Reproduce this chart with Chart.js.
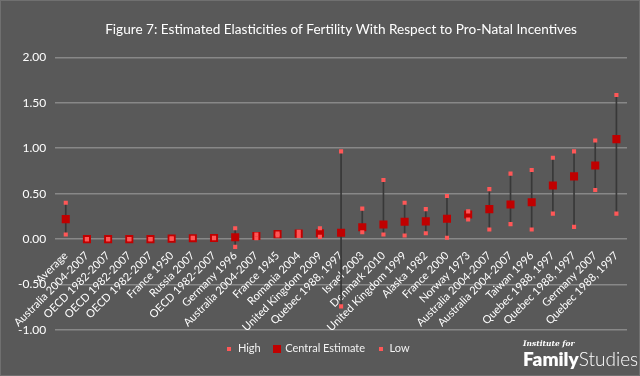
<!DOCTYPE html>
<html>
<head>
<meta charset="utf-8">
<script src="https://cdn.jsdelivr.net/npm/chart.js@4.4.1/dist/chart.umd.min.js"></script>
<style>
  body { margin: 0; background: #595959; }
  #wrap { position: relative; width: 640px; height: 376px; box-sizing: border-box; border: 1px solid #707070; }
  #logo { position: absolute; left: 522px; top: 339px; color: #fff; line-height: 1; }
  #logo .inst { font-family: "DejaVu Serif", serif; font-style: italic; font-weight: bold; font-size: 7.5px; display: block; margin-bottom: 1px; }
  #logo .fam { font-family: Lato, sans-serif; font-weight: 800; font-size: 19px; }
  #logo .stu { font-family: Lato, sans-serif; font-weight: 300; font-size: 19px; }
</style>
</head>
<body>
<div id="wrap">
  <canvas id="elasticityChart" width="638" height="374"></canvas>
  <div id="logo"><span class="inst">Institute for</span><span class="fam">Family</span><span class="stu">Studies</span></div>
</div>
<script>
const categories = [
    "Average", "Australia 2004-2007", "OECD 1982-2007", "OECD 1982-2007", "OECD 1982-2007",
    "France 1950", "Russia 2007", "OECD 1982-2007", "Germany 1996", "Australia 2004-2007",
    "France 1945", "Romania 2004", "United Kingdom 2009", "Quebec 1988, 1997", "Israel 2003",
    "Denmark 2010", "United Kingdom 1999", "Alaska 1982", "France 2000", "Norway 1973",
    "Australia 2004-2007", "Australia 2004-2007", "Taiwan 1996", "Quebec 1988, 1997",
    "Quebec 1988, 1997", "Germany 2007", "Quebec 1988, 1997"
];
const highValues = [
    0.40, 0.00, 0.00, 0.00, 0.00, 0.005, 0.015, 0.015, 0.12, 0.05,
    0.06, 0.08, 0.12, 0.965, 0.335, 0.65, 0.40, 0.33, 0.475, 0.305,
    0.55, 0.72, 0.76, 0.895, 0.965, 1.085, 1.585
];
const centralValues = [
    0.22, 0.00, 0.00, 0.00, 0.00, 0.005, 0.01, 0.012, 0.02, 0.035,
    0.055, 0.06, 0.065, 0.07, 0.13, 0.16, 0.19, 0.195, 0.225, 0.27,
    0.33, 0.38, 0.405, 0.59, 0.69, 0.81, 1.10
];
const lowValues = [
    0.05, 0.00, 0.00, 0.00, 0.00, 0.005, 0.01, 0.01, -0.085, 0.01,
    0.04, 0.035, 0.025, -0.74, 0.075, 0.05, 0.04, 0.065, 0.015, 0.215,
    0.105, 0.165, 0.105, 0.28, 0.135, 0.54, 0.28
];
const yTicks = [-1.00, -0.50, 0.00, 0.50, 1.00, 1.50, 2.00];

const pink = "#ff5757";
const darkRed = "#c00000";

// little square images for the legend (markers differ in size)
function square(size, color) {
    const c = document.createElement("canvas");
    c.width = size; c.height = size;
    const g = c.getContext("2d");
    g.fillStyle = color;
    g.fillRect(0, 0, size, size);
    return c;
}
const legendIcons = [square(4, pink), square(8, darkRed), square(4, pink)];

const ctx = document.getElementById("elasticityChart").getContext("2d");
const chart = new Chart(ctx, {
    type: "line",
    data: {
        labels: categories,
        datasets: [{
            label: "High",
            data: highValues,
            showLine: false,
            pointStyle: "rect",
            pointRadius: 2.9,
            pointHoverRadius: 2.9,
            pointBackgroundColor: pink,
            pointBorderWidth: 0,
            order: 0
        }, {
            label: "Central Estimate",
            data: centralValues,
            showLine: false,
            pointStyle: "rect",
            pointRadius: 5.7,
            pointHoverRadius: 5.7,
            pointBackgroundColor: darkRed,
            pointBorderWidth: 0,
            order: 2
        }, {
            label: "Low",
            data: lowValues,
            showLine: false,
            pointStyle: "rect",
            pointRadius: 2.9,
            pointHoverRadius: 2.9,
            pointBackgroundColor: pink,
            pointBorderWidth: 0,
            order: 1
        }, {
            type: "bar",
            label: "range",
            data: lowValues.map((low, i) => [low, highValues[i]]),
            backgroundColor: "#383838",
            borderWidth: 0,
            barThickness: 1,
            order: 3
        }]
    },
    options: {
        responsive: false,
        animation: false,
        layout: { padding: { left: 8, right: 12, top: 0, bottom: 11 } },
        plugins: {
            title: {
                display: true,
                fullSize: false,
                text: "Figure 7: Estimated Elasticities of Fertility With Respect to Pro-Natal Incentives",
                color: "#ffffff",
                font: { family: "Lato", size: 13.6, weight: "normal" },
                padding: { top: 20, bottom: 20 }
            },
            legend: {
                position: "bottom",
                labels: {
                    color: "#f2f2f2",
                    font: { family: "Lato", size: 11 },
                    usePointStyle: true,
                    boxWidth: 6,
                    boxHeight: 8,
                    padding: 13,
                    sort: (a, b) => a.datasetIndex - b.datasetIndex,
                    generateLabels: (c) => Chart.defaults.plugins.legend.labels.generateLabels(c)
                        .filter(item => item.datasetIndex < 3)
                        .map(item => Object.assign(item, { pointStyle: legendIcons[item.datasetIndex] }))
                }
            },
            tooltip: { enabled: false }
        },
        scales: {
            x: {
                position: { y: 0 },
                offset: true,
                grid: { display: false },
                border: { display: false },
                ticks: {
                    color: "#ffffff",
                    font: { family: "Lato", size: 11 },
                    minRotation: 45,
                    maxRotation: 45,
                    autoSkip: false,
                    padding: 2
                }
            },
            y: {
                min: -1,
                max: 2,
                afterBuildTicks: (axis) => { axis.ticks = yTicks.map(v => ({ value: v })); },
                grid: { color: "#888888", lineWidth: 1.5, drawTicks: false },
                border: { display: false },
                ticks: {
                    color: "#ffffff",
                    font: { family: "Lato", size: 12 },
                    padding: 9,
                    callback: (v) => v.toFixed(2)
                }
            }
        }
    }
});
</script>
</body>
</html>
